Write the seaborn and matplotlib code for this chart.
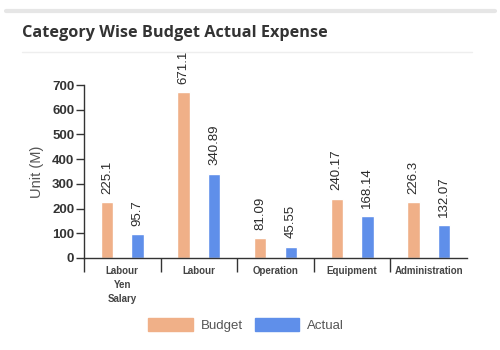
import pandas as pd
import matplotlib
matplotlib.use("Agg")
import matplotlib.pyplot as plt
import seaborn as sns
from matplotlib.lines import Line2D

categories = ["Labour\nYen\nSalary", "Labour", "Operation", "Equipment", "Administration"]
budget = [225.1, 671.1, 81.09, 240.17, 226.3]
actual = [95.7, 340.89, 45.55, 168.14, 132.07]
budget_labels = ["225.1", "671.1", "81.09", "240.17", "226.3"]
actual_labels = ["95.7", "340.89", "45.55", "168.14", "132.07"]
y_ticks = [0, 100, 200, 300, 400, 500, 600, 700]

df = pd.DataFrame({
    "category": categories * 2,
    "value": budget + actual,
    "series": ["Budget"] * len(categories) + ["Actual"] * len(categories),
})

sns.set_style("white")
plt.rcParams["font.family"] = ["Liberation Sans", "DejaVu Sans"]

fig = plt.figure(figsize=(5, 3.5), dpi=100)
ax = fig.add_axes([0.168, 0.263, 0.766, 0.494])

palette = {"Budget": "#F0B088", "Actual": "#5F8FEA"}
sns.barplot(data=df, x="category", y="value", hue="series", palette=palette,
            width=0.8, gap=0.6, ax=ax, legend=False, saturation=1)

# value labels above bars
for cont, labels in zip(ax.containers, [budget_labels, actual_labels]):
    ax.bar_label(cont, labels=labels, rotation=90, padding=6, fontsize=9.5,
                 color="#2a2a2a", clip_on=False)

ax.set_ylim(0, 700)
ax.set_xlim(-0.5, len(categories) - 0.5)
ax.set_yticks(y_ticks)
ax.set_yticklabels([str(t) for t in y_ticks], fontweight="bold", fontsize=9.5, color="#333333")
ax.tick_params(axis="y", length=6, width=1, color="#333333", pad=1, left=True)
ax.set_xticks(range(len(categories)))
ax.set_xticklabels(categories, fontweight="bold", fontsize=7, color="#444444", linespacing=1.5)
ax.tick_params(axis="x", length=0, pad=6)
ax.set_xticks([i - 0.5 for i in range(len(categories))], minor=True)
ax.tick_params(axis="x", which="minor", length=10, width=1, color="#333333", bottom=True)

ax.set_xlabel("")
ax.set_ylabel("Unit (M)", fontsize=10.5, color="#555555", labelpad=6)
for side in ["top", "right"]:
    ax.spines[side].set_visible(False)
for side in ["left", "bottom"]:
    ax.spines[side].set_color("#333333")
    ax.spines[side].set_linewidth(1)

# header decorations
fig.add_artist(Line2D([0.012, 0.99], [0.97, 0.97], color="#E6E6E6", linewidth=3))
fig.add_artist(Line2D([0.044, 0.944], [0.851, 0.851], color="#EEEEEE", linewidth=1))
fig.text(0.044, 0.905, "Category Wise Budget Actual Expense", fontsize=11.7,
         fontweight="bold", color="#333333", family=["Open Sans", "DejaVu Sans"], va="center")

# legend
handles = [plt.Rectangle((0, 0), 1, 1, color=palette["Budget"]),
           plt.Rectangle((0, 0), 1, 1, color=palette["Actual"])]
fig.legend(handles, ["Budget", "Actual"], loc="center", bbox_to_anchor=(0.492, 0.071),
           ncol=2, frameon=False, fontsize=9.5, handlelength=3.4, handleheight=1.1,
           columnspacing=0.9, handletextpad=0.6, labelcolor="#555555")

fig.savefig("out.png", dpi=100)
